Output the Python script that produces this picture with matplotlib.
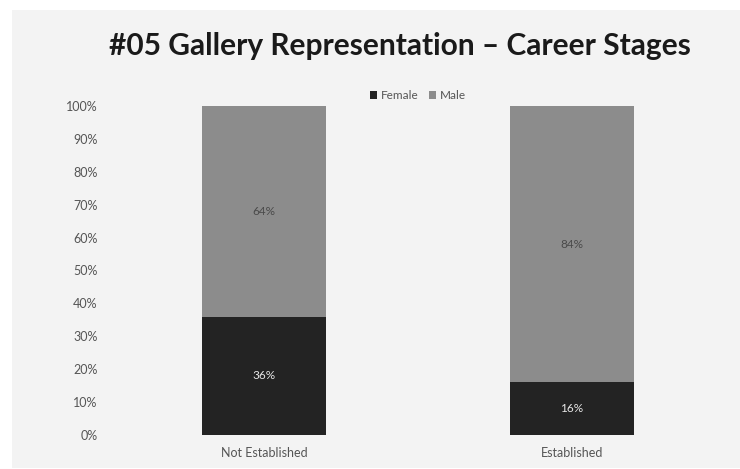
import matplotlib.pyplot as plt
from matplotlib.patches import Rectangle
import numpy as np

categories = ["Not Established", "Established"]
female = [36, 16]
male = [64, 84]
yticks = np.arange(0, 101, 10)

plt.rcParams['font.family'] = ['Lato', 'DejaVu Sans']

fig = plt.figure(figsize=(7.4, 4.69), dpi=100)
fig.patch.set_facecolor('white')
# light grey chart panel behind everything
fig.patches.append(Rectangle((12/740, 1/469), 1 - 12/740, 1 - 11/469,
                             transform=fig.transFigure, facecolor='#f3f3f3',
                             edgecolor='none', zorder=-10))

ax = fig.add_axes([0.1486, 0.0725, 0.8324, 0.7015])
ax.set_facecolor('none')
ax.set_zorder(1)

x = np.arange(len(categories))
w = 0.4
ax.bar(x, female, w, color='#232323', label='Female')
ax.bar(x, male, w, bottom=female, color='#8c8c8c', label='Male')

for i in range(len(categories)):
    ax.text(x[i], female[i] / 2, f"{female[i]}%", ha='center', va='center',
            color='#e6e6e6', fontsize=8.5)
    ax.text(x[i], female[i] + male[i] / 2, f"{male[i]}%", ha='center', va='center',
            color='#4a4a4a', fontsize=8.5)

ax.set_xlim(-0.5, 1.5)
ax.set_ylim(0, 100)
ax.set_yticks(yticks)
ax.set_yticklabels([f"{v}%" for v in yticks])
ax.set_xticks(x)
ax.set_xticklabels(categories)
ax.tick_params(length=0, labelsize=9, colors='#555555')
ax.tick_params(axis='y', pad=9)
ax.tick_params(axis='x', pad=9)
for s in ax.spines.values():
    s.set_visible(False)

ax.legend(loc='lower center', bbox_to_anchor=(0.50, 1.0), ncol=2, frameon=False,
          fontsize=8.5, handlelength=0.6, handleheight=0.6, handletextpad=0.3,
          columnspacing=0.9, labelcolor='#555555', borderaxespad=0)

fig.text(0.54, 0.902, "#05 Gallery Representation \u2013 Career Stages",
         ha='center', va='center', fontsize=21.5, fontweight='bold', color='#1a1a1a')

fig.savefig('out.png', dpi=100)
